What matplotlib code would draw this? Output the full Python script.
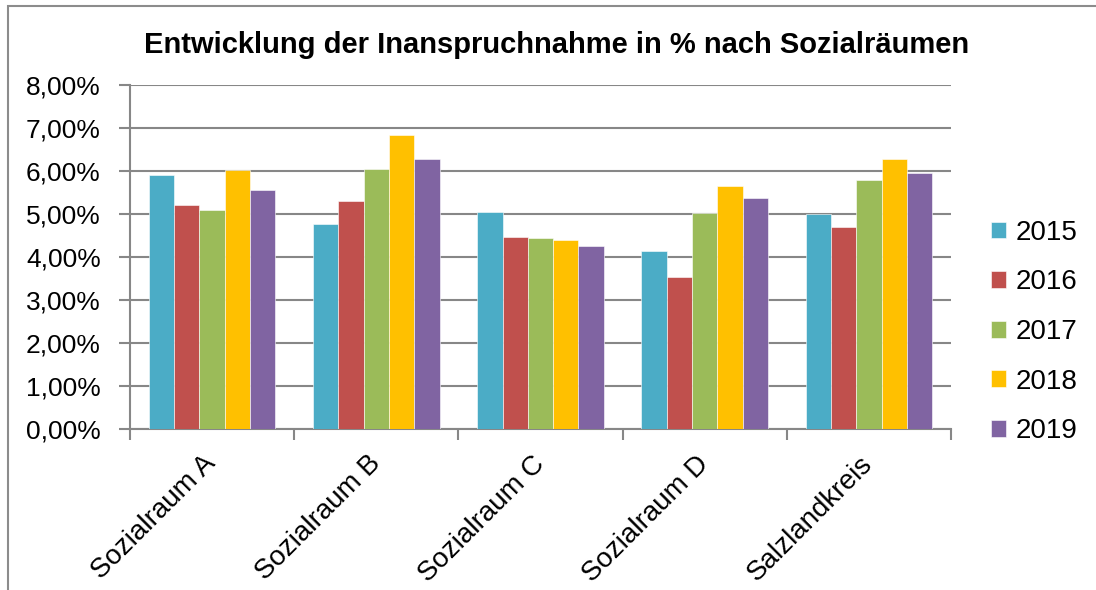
import matplotlib
matplotlib.use("Agg")
import matplotlib.pyplot as plt
import numpy as np
from matplotlib.ticker import FuncFormatter, FixedLocator
from matplotlib.patches import Rectangle

categories = ["Sozialraum A", "Sozialraum B", "Sozialraum C", "Sozialraum D", "Salzlandkreis"]
years = ["2015", "2016", "2017", "2018", "2019"]
values = {
    "2015": [5.91, 4.76, 5.05, 4.13, 5.00],
    "2016": [5.21, 5.29, 4.47, 3.54, 4.70],
    "2017": [5.09, 6.04, 4.44, 5.02, 5.79],
    "2018": [6.02, 6.83, 4.39, 5.64, 6.28],
    "2019": [5.56, 6.27, 4.25, 5.36, 5.95],
}
colors = ["#4BACC6", "#C0504D", "#9BBB59", "#FFC000", "#8064A2"]
title = "Entwicklung der Inanspruchnahme in % nach Sozialräumen"

plt.rcParams['font.family'] = ['Liberation Sans', 'DejaVu Sans']

fig = plt.figure(figsize=(10.96, 5.90), dpi=100)
W, H = 1096, 590
ax = fig.add_axes([130 / W, 1 - 429.3 / H, (951 - 130) / W, (429.3 - 84.7) / H])

# outer chart border (only top and left visible)
fig.patches.append(Rectangle((7.5 / W, -0.1), 1.2, 1 - 6 / H + 0.1, transform=fig.transFigure,
                             fill=False, edgecolor="#8c8c8c", linewidth=1.5))

n = len(years)
x = np.arange(len(categories))
bw = 0.77 / n
for i, (yr, col) in enumerate(zip(years, colors)):
    ax.bar(x - 0.385 + bw * (i + 0.5), values[yr], width=bw, color=col,
           edgecolor="white", linewidth=0.4, label=yr, zorder=3)

ax.set_xlim(-0.5, len(categories) - 0.5)
ax.set_ylim(0, 8)
ax.set_yticks(np.arange(0, 9, 1))
ax.yaxis.set_major_formatter(FuncFormatter(lambda v, p: f"{v:.2f}".replace(".", ",") + "%"))
ax.grid(axis="y", color="#878787", linewidth=1.5, zorder=0)
ax.set_axisbelow(True)

ax.xaxis.set_major_locator(FixedLocator(np.arange(-0.5, len(categories), 1.0)))
ax.xaxis.set_major_formatter(FuncFormatter(lambda v, p: ""))
ax.xaxis.set_minor_locator(FixedLocator(x))
ax.set_xticklabels(categories, minor=True, rotation=45, ha="right", va="center",
                   rotation_mode="anchor", fontsize=20)
ax.tick_params(axis="x", which="minor", length=0, pad=22)
ax.tick_params(axis="x", which="major", length=8, width=1.5, color="#878787", direction="out")
ax.tick_params(axis="y", length=8, width=1.5, color="#878787", labelsize=19, pad=13)

for s in ["top", "right"]:
    ax.spines[s].set_visible(False)
for s in ["left", "bottom"]:
    ax.spines[s].set_color("#878787")
    ax.spines[s].set_linewidth(1.5)

fig.text(557 / W, 1 - 45 / H, title, ha="center", va="center", fontsize=21, fontweight="bold")

handles, labels = ax.get_legend_handles_labels()
leg = fig.legend(handles, labels, loc="center left", bbox_to_anchor=(991 / W, 1 - 332 / H),
                 frameon=False, fontsize=20, handlelength=0.55, handleheight=0.55,
                 handletextpad=0.35, labelspacing=0.85, borderpad=0, borderaxespad=0)

fig.savefig("out.png", dpi=100, facecolor="white")
